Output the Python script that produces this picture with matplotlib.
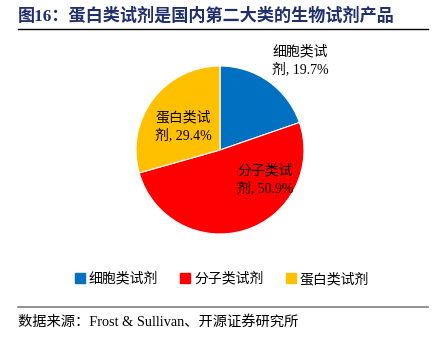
import numpy as np
import matplotlib
matplotlib.use('Agg')
import matplotlib.pyplot as plt
from matplotlib.lines import Line2D

plt.rcParams['font.family'] = ['Liberation Serif', 'Noto Sans CJK SC']

categories = ['细胞类试剂', '分子类试剂', '蛋白类试剂']
shares = [19.7, 50.9, 29.4]
colors = ['#0070C0', '#FF0000', '#FFC000']
# label text split over two lines, as in the source
label_lines = [('细胞类试', '剂, 19.7%'), ('分子类试', '剂, 50.9%'), ('蛋白类试', '剂, 29.4%')]

W, H = 435, 340
fig = plt.figure(figsize=(W / 100, H / 100), dpi=100)

# pie axes: centre (220, 150) px, radius 84 px
cx, cy, r = 220, 150, 84
ax = fig.add_axes([(cx - r) / W, (H - cy - r) / H, 2 * r / W, 2 * r / H])
wedges, _ = ax.pie(shares, colors=colors, startangle=90, counterclock=False,
                   radius=1, wedgeprops=dict(linewidth=0.8, edgecolor='white'))
ax.set_xlim(-1, 1)
ax.set_ylim(-1, 1)
ax.set_aspect('equal')
ax.axis('off')

# label positions (radius factor, angle in degrees)
label_pos = [(1.43, 48), (0.64, -33), (0.52, 148)]
for (l1, l2), (rf, ang) in zip(label_lines, label_pos):
    x = rf * np.cos(np.radians(ang))
    y = rf * np.sin(np.radians(ang))
    ax.text(x, y, l1 + '\n' + l2, ha='center', va='center', fontsize=10,
            linespacing=1.35, clip_on=False)

# title and rules
fig.text(18 / W, 1 - 16 / H, '图16：蛋白类试剂是国内第二大类的生物试剂产品',
         fontsize=12.3, fontweight='bold', color='#1F2F6E', va='center', ha='left')
fig.add_artist(Line2D([18 / W, 428 / W], [1 - 29 / H] * 2, color='black', lw=1.0))
fig.add_artist(Line2D([18 / W, 428 / W], [1 - 307 / H] * 2, color='#7F7F7F', lw=1.2))
fig.text(18 / W, 1 - 322 / H, '数据来源：Frost & Sullivan、开源证券研究所',
         fontsize=10.3, va='center', ha='left')

# legend
handles = [plt.Rectangle((0, 0), 1, 1, color=c) for c in colors]
fig.legend(handles, categories, loc='center', bbox_to_anchor=(222 / W, 1 - 279 / H),
           ncol=3, frameon=False, fontsize=10, handlelength=0.7, handleheight=0.7,
           handletextpad=0.3, columnspacing=1.6)

fig.savefig('out.png', dpi=100)
